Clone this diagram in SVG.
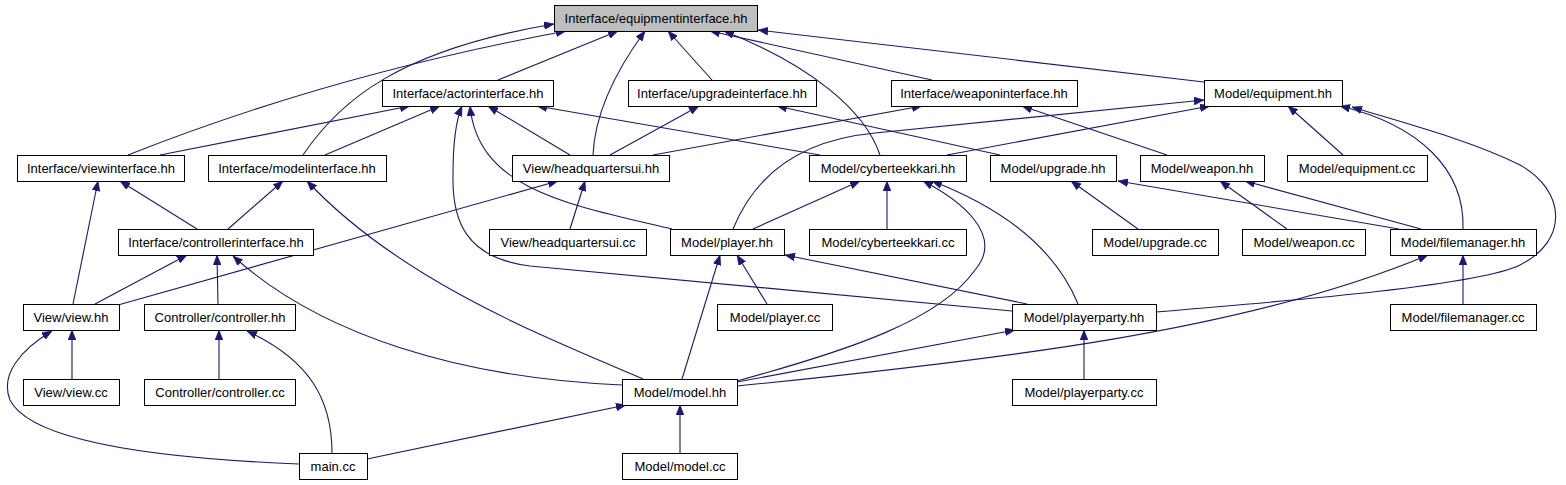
<svg xmlns="http://www.w3.org/2000/svg" width="1566" height="485" viewBox="0 0 1566 485">
<style>
.n rect{fill:#fff;stroke:#000;stroke-width:1}
.n.g rect{fill:#bfbfbf}
.n text{font-family:"Liberation Sans",Arial,sans-serif;font-size:13px;fill:#000;text-anchor:middle}
.e path{fill:none;stroke:#191970;stroke-width:1.1;marker-end:url(#a)}
</style>
<defs>
<marker id="a" viewBox="0 0 10 8" refX="10" refY="4" markerWidth="10" markerHeight="8" markerUnits="userSpaceOnUse" orient="auto"><path d="M0,0 L10,4 L0,8 z" fill="#191970" stroke="#191970" stroke-width="0.5"/></marker>
</defs>
<rect width="1566" height="485" fill="#fff"/>
<g id="edges" class="e">
<path d="M128,155 Q330,75 566,31"/>
<path d="M303,155 C340,100 400,50 554,24"/>
<path d="M498,80 L618,31"/>
<path d="M593,155 C595,110 620,65 645,31"/>
<path d="M712,80 L668,31"/>
<path d="M932,80 L710,31"/>
<path d="M880,155 C865,110 810,65 724,31"/>
<path d="M1204,82 L758,30"/>
<path d="M160,155 L410,106"/>
<path d="M325,155 L440,106"/>
<path d="M570,155 L488,106"/>
<path d="M672,229 C570,205 478,190 470,106"/>
<path d="M1012,311 L530,266 C465,258 452,220 453,175 C453,140 456,120 462,106"/>
<path d="M820,155 L537,106"/>
<path d="M610,155 L699,106"/>
<path d="M1000,155 L777,106"/>
<path d="M653,155 L922,106"/>
<path d="M1167,155 L1022,106"/>
<path d="M733,229 C755,175 800,140 875,133 L1204,100"/>
<path d="M947,155 L1210,106"/>
<path d="M1343,155 L1288,106"/>
<path d="M1463,229 C1465,170 1420,125 1340,106"/>
<path d="M1156,312 C1300,300 1480,285 1520,265 C1570,240 1565,190 1520,165 C1470,140 1400,122 1352,107"/>
<path d="M197,229 L120,181"/>
<path d="M73,304 L98,181"/>
<path d="M228,229 L283,181"/>
<path d="M643,379 C540,335 400,280 307,181"/>
<path d="M118,305 L558,181"/>
<path d="M570,229 L585,181"/>
<path d="M753,229 L860,181"/>
<path d="M887,229 L887,181"/>
<path d="M1078,304 C1060,260 1020,215 932,181"/>
<path d="M737,381 C850,350 940,320 975,270 C1005,235 960,200 923,181"/>
<path d="M1138,229 L1071,181"/>
<path d="M1399,229 L1118,181"/>
<path d="M1287,229 L1220,181"/>
<path d="M1421,229 L1245,181"/>
<path d="M95,304 L187,255"/>
<path d="M218,304 L217,255"/>
<path d="M622,385 C460,378 320,335 233,256"/>
<path d="M682,379 L720,255"/>
<path d="M767,304 L737,255"/>
<path d="M1027,304 L785,255"/>
<path d="M737,386 C1000,360 1250,330 1428,255"/>
<path d="M1463,304 L1463,255"/>
<path d="M72,379 L72,330"/>
<path d="M299,464 C150,458 30,440 10,400 C0,375 20,350 52,331"/>
<path d="M219,379 L219,330"/>
<path d="M332,453 C332,400 310,360 247,331"/>
<path d="M737,382 L1015,330"/>
<path d="M1084,379 L1084,330"/>
<path d="M367,459 L626,405"/>
<path d="M680,453 L680,405"/>
</g>
<g id="n0" class="n g"><rect x="554.5" y="5.5" width="203" height="26"/><text x="656" y="22.5">Interface/equipmentinterface.hh</text></g>
<g id="n1" class="n"><rect x="382.5" y="80.5" width="171" height="26"/><text x="468" y="97.5">Interface/actorinterface.hh</text></g>
<g id="n2" class="n"><rect x="628.5" y="80.5" width="188" height="26"/><text x="722" y="97.5">Interface/upgradeinterface.hh</text></g>
<g id="n3" class="n"><rect x="891.5" y="80.5" width="186" height="26"/><text x="984" y="97.5">Interface/weaponinterface.hh</text></g>
<g id="n4" class="n"><rect x="1204.5" y="80.5" width="138" height="26"/><text x="1273" y="97.5">Model/equipment.hh</text></g>
<g id="n5" class="n"><rect x="17.5" y="155.5" width="167" height="26"/><text x="101" y="172.5">Interface/viewinterface.hh</text></g>
<g id="n6" class="n"><rect x="208.5" y="155.5" width="178" height="26"/><text x="297" y="172.5">Interface/modelinterface.hh</text></g>
<g id="n7" class="n"><rect x="512.5" y="155.5" width="157" height="26"/><text x="591" y="172.5">View/headquartersui.hh</text></g>
<g id="n8" class="n"><rect x="809.5" y="155.5" width="157" height="26"/><text x="888" y="172.5">Model/cyberteekkari.hh</text></g>
<g id="n9" class="n"><rect x="990.5" y="155.5" width="126" height="26"/><text x="1053" y="172.5">Model/upgrade.hh</text></g>
<g id="n10" class="n"><rect x="1140.5" y="155.5" width="124" height="26"/><text x="1202" y="172.5">Model/weapon.hh</text></g>
<g id="n11" class="n"><rect x="1287.5" y="155.5" width="140" height="26"/><text x="1357" y="172.5">Model/equipment.cc</text></g>
<g id="n12" class="n"><rect x="118.5" y="229.5" width="195" height="26"/><text x="216" y="246.5">Interface/controllerinterface.hh</text></g>
<g id="n13" class="n"><rect x="489.5" y="229.5" width="157" height="26"/><text x="568" y="246.5">View/headquartersui.cc</text></g>
<g id="n14" class="n"><rect x="670.5" y="229.5" width="114" height="26"/><text x="727" y="246.5">Model/player.hh</text></g>
<g id="n15" class="n"><rect x="809.5" y="229.5" width="157" height="26"/><text x="888" y="246.5">Model/cyberteekkari.cc</text></g>
<g id="n16" class="n"><rect x="1092.5" y="229.5" width="126" height="26"/><text x="1155" y="246.5">Model/upgrade.cc</text></g>
<g id="n17" class="n"><rect x="1242.5" y="229.5" width="123" height="26"/><text x="1304" y="246.5">Model/weapon.cc</text></g>
<g id="n18" class="n"><rect x="1390.5" y="229.5" width="146" height="26"/><text x="1463" y="246.5">Model/filemanager.hh</text></g>
<g id="n19" class="n"><rect x="23.5" y="304.5" width="96" height="26"/><text x="71" y="321.5">View/view.hh</text></g>
<g id="n20" class="n"><rect x="144.5" y="304.5" width="151" height="26"/><text x="220" y="321.5">Controller/controller.hh</text></g>
<g id="n21" class="n"><rect x="717.5" y="304.5" width="115" height="26"/><text x="775" y="321.5">Model/player.cc</text></g>
<g id="n22" class="n"><rect x="1012.5" y="304.5" width="144" height="26"/><text x="1084" y="321.5">Model/playerparty.hh</text></g>
<g id="n23" class="n"><rect x="1390.5" y="304.5" width="146" height="26"/><text x="1463" y="321.5">Model/filemanager.cc</text></g>
<g id="n24" class="n"><rect x="23.5" y="379.5" width="96" height="26"/><text x="71" y="396.5">View/view.cc</text></g>
<g id="n25" class="n"><rect x="144.5" y="379.5" width="151" height="26"/><text x="220" y="396.5">Controller/controller.cc</text></g>
<g id="n26" class="n"><rect x="622.5" y="379.5" width="115" height="26"/><text x="680" y="396.5">Model/model.hh</text></g>
<g id="n27" class="n"><rect x="1012.5" y="379.5" width="144" height="26"/><text x="1084" y="396.5">Model/playerparty.cc</text></g>
<g id="n28" class="n"><rect x="299.5" y="453.5" width="68" height="26"/><text x="333" y="470.5">main.cc</text></g>
<g id="n29" class="n"><rect x="622.5" y="453.5" width="115" height="26"/><text x="680" y="470.5">Model/model.cc</text></g>
</svg>
